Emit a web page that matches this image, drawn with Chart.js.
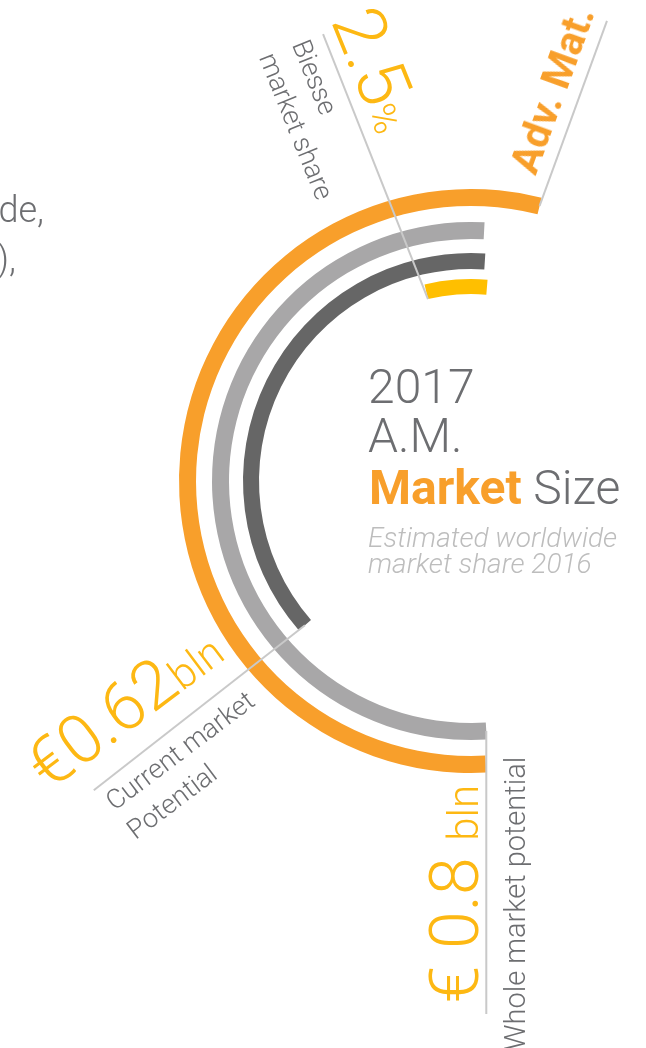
<!DOCTYPE html>
<html>
<head>
<meta charset="UTF-8">
<title>2017 A.M. Market Size</title>
<script src="https://cdn.jsdelivr.net/npm/chart.js@4"></script>
<style>
  html, body { margin: 0; padding: 0; background: #fff; }
  body { width: 646px; height: 1048px; position: relative; overflow: hidden; font-family: Roboto, "Noto Sans", sans-serif; }
  #chartBox { position: absolute; left: 0; top: 0; width: 646px; height: 1048px; }
  .lbl { position: absolute; white-space: nowrap; line-height: 1; font-weight: 300; }
</style>
</head>
<body>
<div id="chartBox"><canvas id="marketChart" width="646" height="1048"></canvas></div>
<div id="labels"></div>
<script>
// rings, outer to inner. angles in degrees, clockwise from 12 o'clock
const ringNames = ['Adv. Mat.', 'Whole market potential', 'Current market potential', 'Biesse market share'];
const ringStart = [177, 176.5, 229, 346.7];
const ringSweep = [197, 186.5, 134.6, 18];
const ringColors = ['#F89F2B', '#A8A7A8', '#666666', '#FFBF00'];
const ringWidth = [17, 17, 16, 15];
const ringGap = [16, 14, 10];

// leader lines: ring, which end of the arc, where across the ring (0 inner, 1 outer), direction, length
const leaders = [
  {ring: 0, end: 'end', at: 0.5, dir: 20, len: 197},
  {ring: 3, end: 'start', at: 0, dir: 338.4, len: 285},
  {ring: 2, end: 'start', at: 0.5, dir: 232, len: 268},
  {ring: 1, end: 'start', at: 0.5, dir: 180, len: 283}
];

var datasets = [];
var ringIndex = [];
ringNames.forEach(function(name, i) {
  ringIndex.push(datasets.length);
  datasets.push({
    label: name,
    data: [ringSweep[i]],
    rotation: ringStart[i],
    circumference: ringSweep[i],
    backgroundColor: ringColors[i],
    weight: ringWidth[i]
  });
  if (i < ringGap.length) {
    // transparent full ring used as space between the arcs
    datasets.push({ label: '', data: [1], rotation: 0, circumference: 360,
      backgroundColor: 'rgba(0,0,0,0)', weight: ringGap[i] });
  }
});

const leaderLines = {
  id: 'leaderLines',
  afterDatasetsDraw(chart) {
    const ctx = chart.ctx;
    ctx.save();
    ctx.strokeStyle = '#C9C9C9';
    ctx.lineWidth = 2;
    leaders.forEach(function(l) {
      const arc = chart.getDatasetMeta(ringIndex[l.ring]).data[0];
      const a = l.end == 'end' ? arc.endAngle : arc.startAngle;
      const r = arc.innerRadius + l.at * (arc.outerRadius - arc.innerRadius);
      const x0 = arc.x + r * Math.cos(a), y0 = arc.y + r * Math.sin(a);
      const d = l.dir * Math.PI / 180;
      ctx.beginPath();
      ctx.moveTo(x0, y0);
      ctx.lineTo(x0 + l.len * Math.sin(d), y0 - l.len * Math.cos(d));
      ctx.stroke();
    });
    ctx.restore();
  }
};

var marketChart = new Chart(document.getElementById('marketChart'), {
  type: 'doughnut',
  data: { labels: ['value'], datasets: datasets },
  options: {
    responsive: false,
    animation: false,
    events: [],
    radius: 292,
    cutout: '64.04%',
    borderWidth: 0,
    layout: { padding: { left: 296, right: 0, top: 0, bottom: 86 } },
    plugins: { legend: { display: false }, tooltip: { enabled: false } }
  },
  plugins: [leaderLines]
});

// text, placed by baseline start point and rotation
const gold = '#FDB813', grey = '#6D6E71';
const texts = [
  {html: 'worldwide,', right: 44, y: 222, size: 36, color: grey},
  {html: '(2016),', right: 16, y: 271, size: 36, color: grey},
  {html: '2017', x: 368, y: 403, size: 48, color: grey},
  {html: 'A.M.', x: 368, y: 452, size: 48, color: grey},
  {html: '<b style="font-weight:700;color:#F89F2B">Market</b> Size', x: 369, y: 504, size: 48, color: grey},
  {html: 'Estimated worldwide', x: 368, y: 548, size: 28, color: '#BDBDBD', italic: true},
  {html: 'market share 2016', x: 368, y: 574, size: 28, color: '#BDBDBD', italic: true},
  {html: 'Adv. Mat.', x: 536, y: 177, rot: -70, size: 41, color: '#F89F2B', weight: 700},
  {html: '2.5<span style="font-size:38px">%</span>', x: 330, y: 21, rot: 68, size: 72, color: gold},
  {html: 'Biesse', x: 291, y: 45, rot: 68, size: 27, color: grey},
  {html: 'market share', x: 258, y: 58, rot: 68, size: 27, color: grey},
  {html: '€0.62<span style="font-size:42px">bln</span>', x: 49, y: 792, rot: -37, size: 68, color: gold},
  {html: 'Current market', x: 115, y: 812, rot: -37, size: 27, color: grey},
  {html: 'Potential', x: 136, y: 841, rot: -37, size: 27, color: grey},
  {html: '€ 0.8 <span style="font-size:42px">bln</span>', x: 478, y: 1003, rot: -90, size: 68, color: gold},
  {html: 'Whole market potential', x: 525, y: 1050, rot: -90, size: 29, color: grey}
];

var box = document.getElementById('labels');
texts.forEach(function(t) {
  var el = document.createElement('div');
  el.className = 'lbl';
  el.innerHTML = t.html;
  el.style.fontSize = t.size + 'px';
  el.style.color = t.color;
  if (t.weight) el.style.fontWeight = t.weight;
  if (t.italic) el.style.fontStyle = 'italic';
  el.style.top = 'calc(' + t.y + 'px - 0.842em)';
  if (t.right !== undefined) {
    el.style.right = (646 - t.right) + 'px';
  } else {
    el.style.left = t.x + 'px';
  }
  if (t.rot) {
    el.style.transformOrigin = '0 0.842em';
    el.style.transform = 'rotate(' + t.rot + 'deg)';
  }
  box.appendChild(el);
});
</script>
</body>
</html>
